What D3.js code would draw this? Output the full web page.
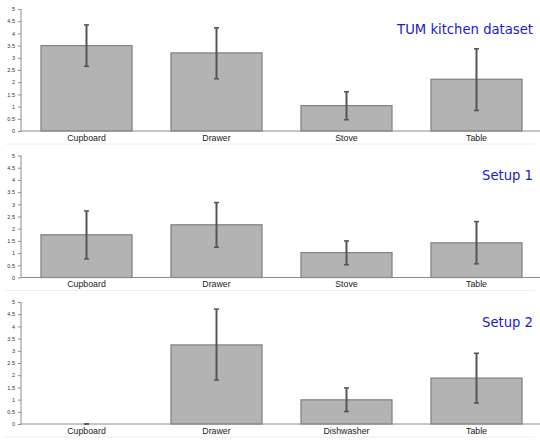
<!DOCTYPE html>
<html>
<head>
<meta charset="utf-8">
<script src="https://cdn.jsdelivr.net/npm/d3@7"></script>
<style>
  body { margin: 0; background: #fff; }
  svg { display: block; }
</style>
</head>
<body>
<svg width="540" height="441"></svg>
<script>
// panel titles
const titles = ['TUM kitchen dataset', 'Setup 1', 'Setup 2'];

// categories per panel
const cats1 = ['Cupboard', 'Drawer', 'Stove', 'Table'];
const cats2 = ['Cupboard', 'Drawer', 'Stove', 'Table'];
const cats3 = ['Cupboard', 'Drawer', 'Dishwasher', 'Table'];

// bar heights
const vals1 = [3.5, 3.2, 1.04, 2.12];
const vals2 = [1.75, 2.16, 1.02, 1.42];
const vals3 = [0, 3.24, 0.99, 1.88];

// error bar low / high
const lo1 = [2.65, 2.14, 0.46, 0.84];
const hi1 = [4.35, 4.23, 1.61, 3.37];
const lo2 = [0.76, 1.24, 0.52, 0.56];
const hi2 = [2.73, 3.07, 1.5, 2.29];
const lo3 = [0, 1.8, 0.51, 0.86];
const hi3 = [0, 4.71, 1.48, 2.9];

const yTicks = [0, 0.5, 1, 1.5, 2, 2.5, 3, 3.5, 4, 4.5, 5];

const panels = [
  {title: titles[0], cats: cats1, vals: vals1, lo: lo1, hi: hi1},
  {title: titles[1], cats: cats2, vals: vals2, lo: lo2, hi: hi2},
  {title: titles[2], cats: cats3, vals: vals3, lo: lo3, hi: hi3}
];

const svg = d3.select('svg');
const panelH = 146.5;

panels.forEach((p, i) => {
  const top = i * panelH;
  const g = svg.append('g').attr('transform', `translate(0,${top})`);

  const x = d3.scaleBand().domain(p.cats).range([21.5, 541.5])
    .paddingInner(0.3).paddingOuter(0.15);
  const y = d3.scaleLinear().domain([0, 5]).range([131, 9]);

  // bottom separator
  g.append('line')
    .attr('x1', 5).attr('x2', 535)
    .attr('y1', 144).attr('y2', 144)
    .style('stroke', '#eeeeee').style('stroke-width', 1);

  // bars
  g.selectAll('rect.bar')
    .data(p.vals)
    .join('rect')
    .attr('class', 'bar')
    .attr('x', (d, j) => x(p.cats[j]))
    .attr('width', x.bandwidth())
    .attr('y', d => y(d))
    .attr('height', d => y(0) - y(d))
    .style('fill', '#b3b3b3')
    .style('stroke', '#848484')
    .style('stroke-width', 1.3);

  // y axis
  const yAxis = d3.axisLeft(y).tickValues(yTicks).tickSize(3).tickPadding(3)
    .tickFormat(d => String(d));
  const ya = g.append('g').attr('transform', 'translate(21,0)').call(yAxis);
  ya.select('.domain').remove();
  ya.append('line').attr('x1', 0).attr('x2', 0).attr('y1', y(5)).attr('y2', y(0))
    .style('stroke', '#8c8c8c');
  ya.selectAll('.tick line').style('stroke', '#8c8c8c');
  ya.selectAll('.tick text')
    .style('font-family', 'Liberation Sans, Arial, sans-serif')
    .style('font-size', '5.5px').style('fill', '#333');

  // x axis
  const xAxis = d3.axisBottom(x).tickSize(0).tickPadding(3.5);
  const xa = g.append('g').attr('transform', `translate(0,${y(0)})`).call(xAxis);
  xa.select('.domain').remove();
  xa.append('line').attr('x1', 21).attr('x2', 540).attr('y1', 0).attr('y2', 0)
    .style('stroke', '#8c8c8c').style('stroke-width', 1.2);
  xa.selectAll('.tick text')
    .style('font-family', 'Liberation Sans, Arial, sans-serif')
    .style('font-size', '8.8px').style('fill', '#222');

  // error bars
  const eb = g.selectAll('g.err')
    .data(p.cats)
    .join('g').attr('class', 'err');
  const cx = d => x(d) + x.bandwidth() / 2;
  eb.append('line')
    .attr('x1', cx).attr('x2', cx)
    .attr('y1', (d, j) => y(p.hi[j])).attr('y2', (d, j) => y(p.lo[j]))
    .style('stroke', '#555').style('stroke-width', 2);
  eb.append('line')
    .attr('x1', d => cx(d) - 2.5).attr('x2', d => cx(d) + 2.5)
    .attr('y1', (d, j) => y(p.hi[j])).attr('y2', (d, j) => y(p.hi[j]))
    .style('stroke', '#555').style('stroke-width', 1.5);
  eb.append('line')
    .attr('x1', d => cx(d) - 2.5).attr('x2', d => cx(d) + 2.5)
    .attr('y1', (d, j) => y(p.lo[j])).attr('y2', (d, j) => y(p.lo[j]))
    .style('stroke', '#555').style('stroke-width', 1.5);

  // title
  g.append('text')
    .attr('x', 533).attr('y', 33.5)
    .attr('text-anchor', 'end')
    .style('font-family', 'DejaVu Sans, sans-serif')
    .style('font-size', '13.2px')
    .style('fill', '#1a1acc')
    .text(p.title);
});
</script>
</body>
</html>
